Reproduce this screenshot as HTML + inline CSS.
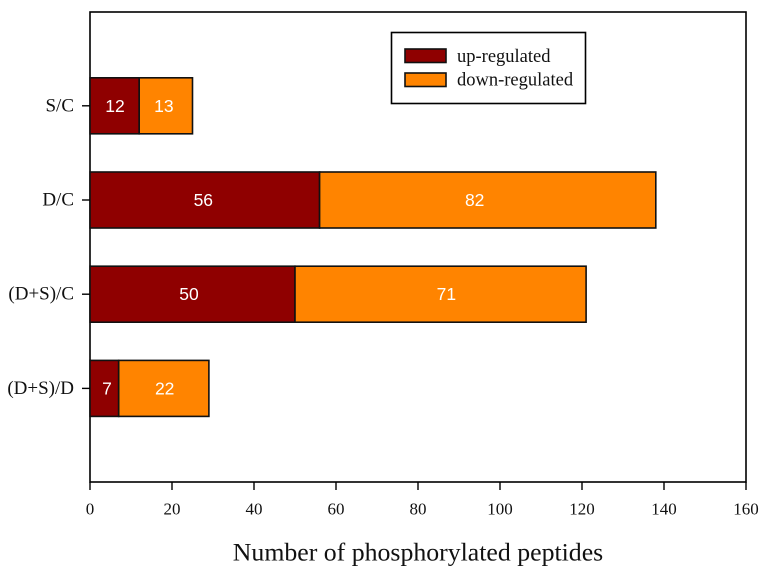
<!DOCTYPE html>
<html>
<head>
<meta charset="utf-8">
<title>Number of phosphorylated peptides</title>
<style>
html,body{margin:0;padding:0;background:#fff;}
body{width:768px;height:573px;overflow:hidden;}
svg{display:block;}
text{font-family:"Liberation Serif",serif;fill:#111;}
.v{font-family:"Liberation Sans",sans-serif;fill:#fff;font-size:17.5px;text-anchor:middle;}
</style>
</head>
<body>
<svg id="chart" xmlns="http://www.w3.org/2000/svg" width="768" height="573" viewBox="0 0 768 573">
  <rect x="90" y="12" width="656" height="470" fill="#fff" stroke="#000" stroke-width="1.6"/>
  <g id="bars"></g>
  <g id="axes"></g>
  <text x="418" y="560.500" font-size="25.800" text-anchor="middle">Number of phosphorylated peptides</text>
  <g>
    <rect x="391.500" y="32.500" width="194" height="71" fill="#fff" stroke="#000" stroke-width="1.600"/>
    <rect x="405" y="49" width="41" height="13.500" fill="#8f0000" stroke="#111" stroke-width="1.600"/>
    <text x="457" y="62" font-size="18.500">up-regulated</text>
    <rect x="405" y="73" width="41" height="13.500" fill="#ff8400" stroke="#111" stroke-width="1.600"/>
    <text x="457" y="85.700" font-size="18.500">down-regulated</text>
  </g>
</svg>
<script>
const categories = ["S/C", "D/C", "(D+S)/C", "(D+S)/D"];
const upRegulated = [12, 56, 50, 7];
const downRegulated = [13, 82, 71, 22];
const xTicks = [0, 20, 40, 60, 80, 100, 120, 140, 160];
const NS = "http://www.w3.org/2000/svg";
const xMax = 160;
const plotLeft = 90, plotRight = 746, plotBottom = 482;
const bandStart = 105.800, bandStep = 94.200, barH = 56;
function xScale(v){ return plotLeft + v / xMax * (plotRight - plotLeft); }
function yScale(i){ return bandStart + i * bandStep; }
function labelNudge(series, i){
  if (series === "up") { return [0.4, -1.5, -3.5, 2.6][i]; }
  return [-2, -13, 5.8, 0.9][i];
}
function mk(parent, tag, attrs){
  const el = document.createElementNS(NS, tag);
  for (const k in attrs) el.setAttribute(k, attrs[k]);
  parent.appendChild(el);
  return el;
}
const barsG = document.getElementById("bars");
const axesG = document.getElementById("axes");
categories.forEach(function(cat, i){
  const y = yScale(i);
  const u = upRegulated[i], d = downRegulated[i];
  const r1 = mk(barsG, "rect", {x: xScale(0), y: y - barH / 2, width: xScale(u) - xScale(0), height: barH, fill: "#8f0000", stroke: "#111", "stroke-width": 1.6});
  
  
  const r2 = mk(barsG, "rect", {x: xScale(u), y: y - barH / 2, width: xScale(u + d) - xScale(u), height: barH, fill: "#ff8400", stroke: "#111", "stroke-width": 1.6});
  
  
  const t1 = mk(barsG, "text", {x: xScale(u / 2) + labelNudge("up", i), y: y + 6, "class": "v"});
  t1.textContent = u;
  
  
  const t2 = mk(barsG, "text", {x: xScale(u + d / 2) + labelNudge("down", i), y: y + 6, "class": "v"});
  t2.textContent = d;
  
  
  const tick = mk(axesG, "line", {x1: 82, x2: plotLeft, y1: y, y2: y, stroke: "#000", "stroke-width": 1.4});
  
  
  const lab = mk(axesG, "text", {x: 74, y: y + 5.500, "font-size": 19, "text-anchor": "end"});
  lab.textContent = cat;
  
  
});
xTicks.forEach(function(v){
  const x = xScale(v);
  const tick = mk(axesG, "line", {x1: x, x2: x, y1: plotBottom, y2: plotBottom + 8, stroke: "#000", "stroke-width": 1.4});
  
  
  const lab = mk(axesG, "text", {x: x, y: 514.500, "font-size": 17, "text-anchor": "middle"});
  lab.textContent = v;
  
  
});
</script>
</body>
</html>
